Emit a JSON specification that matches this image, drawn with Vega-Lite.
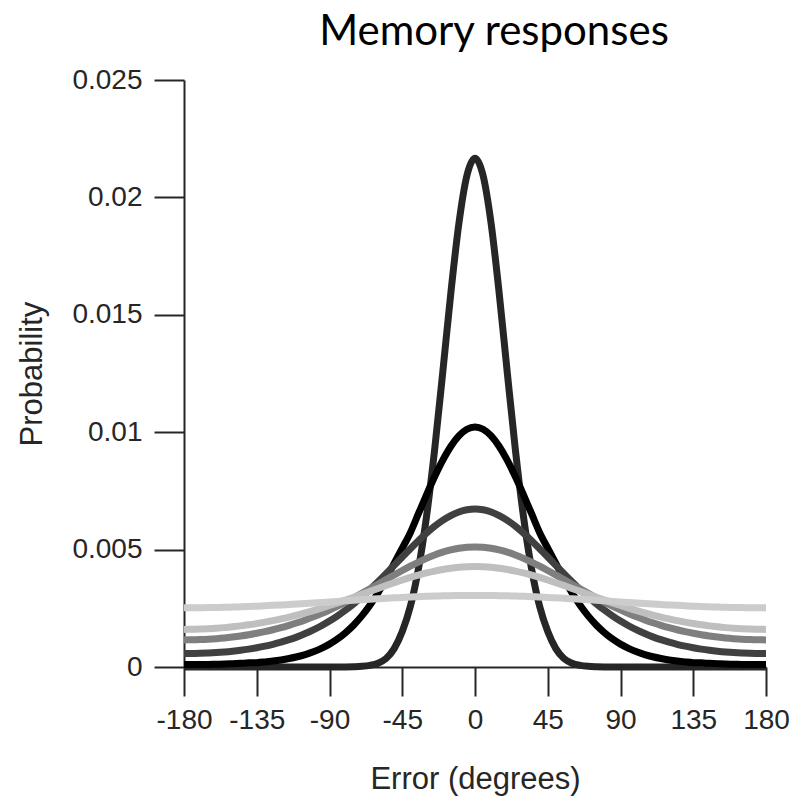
{
  "$schema": "https://vega.github.io/schema/vega-lite/v6.json",
  "width": 582,
  "height": 587,
  "autosize": {"type": "none"},
  "padding": {"left": 184, "top": 80, "right": 24, "bottom": 132},
  "background": "white",
  "config": {"view": {"stroke": null}, "font": "Liberation Sans"},
  "title": {"text": "Memory responses", "font": "Lato", "fontSize": 42, "fontWeight": "normal", "color": "#000000", "anchor": "middle", "dx": 19, "offset": 12},
  "data": {"values": [
    {"x": -180, "a": 0, "b": 0.000103, "c": 0.00057, "d": 0.001155, "e": 0.001602, "f": 0.002521},
    {"x": -175, "a": 0, "b": 0.000104, "c": 0.000573, "d": 0.001158, "e": 0.001605, "f": 0.002521},
    {"x": -170, "a": 0, "b": 0.000106, "c": 0.000581, "d": 0.001168, "e": 0.001614, "f": 0.002524},
    {"x": -165, "a": 0, "b": 0.000111, "c": 0.000595, "d": 0.001184, "e": 0.001629, "f": 0.002529},
    {"x": -160, "a": 0, "b": 0.000118, "c": 0.000614, "d": 0.001208, "e": 0.00165, "f": 0.002535},
    {"x": -155, "a": 0, "b": 0.000127, "c": 0.00064, "d": 0.001238, "e": 0.001677, "f": 0.002543},
    {"x": -150, "a": 0, "b": 0.00014, "c": 0.000673, "d": 0.001276, "e": 0.001711, "f": 0.002553},
    {"x": -145, "a": 0, "b": 0.000156, "c": 0.000713, "d": 0.001321, "e": 0.001751, "f": 0.002564},
    {"x": -140, "a": 0, "b": 0.000176, "c": 0.000761, "d": 0.001374, "e": 0.001797, "f": 0.002577},
    {"x": -135, "a": 0, "b": 0.000185, "c": 0.000818, "d": 0.001436, "e": 0.00185, "f": 0.002592},
    {"x": -130, "a": 0, "b": 0.000215, "c": 0.000886, "d": 0.001506, "e": 0.001909, "f": 0.002608},
    {"x": -125, "a": 0, "b": 0.000253, "c": 0.000965, "d": 0.001586, "e": 0.001975, "f": 0.002625},
    {"x": -120, "a": 0, "b": 0.000301, "c": 0.001057, "d": 0.001675, "e": 0.002048, "f": 0.002643},
    {"x": -115, "a": 0, "b": 0.000361, "c": 0.001163, "d": 0.001774, "e": 0.002127, "f": 0.002663},
    {"x": -110, "a": 0, "b": 0.000436, "c": 0.001284, "d": 0.001884, "e": 0.002213, "f": 0.002684},
    {"x": -105, "a": 0, "b": 0.000531, "c": 0.001423, "d": 0.002004, "e": 0.002305, "f": 0.002705},
    {"x": -100, "a": 0, "b": 0.000648, "c": 0.001581, "d": 0.002135, "e": 0.002404, "f": 0.002727},
    {"x": -95, "a": 0, "b": 0.000794, "c": 0.001759, "d": 0.002277, "e": 0.002508, "f": 0.002749},
    {"x": -90, "a": 0, "b": 0.000975, "c": 0.001958, "d": 0.00243, "e": 0.002618, "f": 0.002772},
    {"x": -85, "a": 0.000002, "b": 0.001196, "c": 0.002181, "d": 0.002593, "e": 0.002732, "f": 0.002795},
    {"x": -80, "a": 0.000005, "b": 0.001466, "c": 0.002427, "d": 0.002765, "e": 0.002851, "f": 0.002818},
    {"x": -75, "a": 0.000013, "b": 0.001791, "c": 0.002695, "d": 0.002946, "e": 0.002972, "f": 0.002841},
    {"x": -70, "a": 0.00003, "b": 0.002177, "c": 0.002987, "d": 0.003134, "e": 0.003096, "f": 0.002863},
    {"x": -65, "a": 0.000071, "b": 0.002631, "c": 0.003299, "d": 0.003327, "e": 0.003221, "f": 0.002885},
    {"x": -60, "a": 0.000161, "b": 0.003156, "c": 0.00363, "d": 0.003525, "e": 0.003346, "f": 0.002907},
    {"x": -55, "a": 0.000361, "b": 0.003752, "c": 0.003975, "d": 0.003723, "e": 0.003469, "f": 0.002927},
    {"x": -50, "a": 0.000782, "b": 0.004414, "c": 0.004329, "d": 0.00392, "e": 0.003589, "f": 0.002946},
    {"x": -45, "a": 0.001508, "b": 0.00506, "c": 0.004687, "d": 0.004112, "e": 0.003704, "f": 0.002964},
    {"x": -40, "a": 0.002578, "b": 0.005721, "c": 0.00504, "d": 0.004296, "e": 0.003813, "f": 0.002981},
    {"x": -35, "a": 0.00418, "b": 0.006527, "c": 0.005381, "d": 0.004469, "e": 0.003914, "f": 0.002996},
    {"x": -30, "a": 0.006403, "b": 0.007331, "c": 0.005702, "d": 0.004628, "e": 0.004005, "f": 0.003009},
    {"x": -25, "a": 0.009238, "b": 0.008101, "c": 0.005992, "d": 0.004769, "e": 0.004085, "f": 0.003021},
    {"x": -20, "a": 0.012518, "b": 0.0088, "c": 0.006245, "d": 0.004889, "e": 0.004152, "f": 0.003031},
    {"x": -15, "a": 0.015893, "b": 0.009392, "c": 0.00645, "d": 0.004985, "e": 0.004206, "f": 0.003038},
    {"x": -10, "a": 0.018872, "b": 0.009842, "c": 0.006602, "d": 0.005056, "e": 0.004245, "f": 0.003044},
    {"x": -5, "a": 0.020932, "b": 0.010124, "c": 0.006695, "d": 0.005099, "e": 0.004269, "f": 0.003047},
    {"x": 0, "a": 0.02167, "b": 0.01022, "c": 0.006727, "d": 0.005113, "e": 0.004277, "f": 0.003048},
    {"x": 5, "a": 0.020932, "b": 0.010124, "c": 0.006695, "d": 0.005099, "e": 0.004269, "f": 0.003047},
    {"x": 10, "a": 0.018872, "b": 0.009842, "c": 0.006602, "d": 0.005056, "e": 0.004245, "f": 0.003044},
    {"x": 15, "a": 0.015893, "b": 0.009392, "c": 0.00645, "d": 0.004985, "e": 0.004206, "f": 0.003038},
    {"x": 20, "a": 0.012518, "b": 0.0088, "c": 0.006245, "d": 0.004889, "e": 0.004152, "f": 0.003031},
    {"x": 25, "a": 0.009238, "b": 0.008101, "c": 0.005992, "d": 0.004769, "e": 0.004085, "f": 0.003021},
    {"x": 30, "a": 0.006403, "b": 0.007331, "c": 0.005702, "d": 0.004628, "e": 0.004005, "f": 0.003009},
    {"x": 35, "a": 0.00418, "b": 0.006527, "c": 0.005381, "d": 0.004469, "e": 0.003914, "f": 0.002996},
    {"x": 40, "a": 0.002578, "b": 0.005721, "c": 0.00504, "d": 0.004296, "e": 0.003813, "f": 0.002981},
    {"x": 45, "a": 0.001508, "b": 0.00506, "c": 0.004687, "d": 0.004112, "e": 0.003704, "f": 0.002964},
    {"x": 50, "a": 0.000782, "b": 0.004414, "c": 0.004329, "d": 0.00392, "e": 0.003589, "f": 0.002946},
    {"x": 55, "a": 0.000361, "b": 0.003752, "c": 0.003975, "d": 0.003723, "e": 0.003469, "f": 0.002927},
    {"x": 60, "a": 0.000161, "b": 0.003156, "c": 0.00363, "d": 0.003525, "e": 0.003346, "f": 0.002907},
    {"x": 65, "a": 0.000071, "b": 0.002631, "c": 0.003299, "d": 0.003327, "e": 0.003221, "f": 0.002885},
    {"x": 70, "a": 0.00003, "b": 0.002177, "c": 0.002987, "d": 0.003134, "e": 0.003096, "f": 0.002863},
    {"x": 75, "a": 0.000013, "b": 0.001791, "c": 0.002695, "d": 0.002946, "e": 0.002972, "f": 0.002841},
    {"x": 80, "a": 0.000005, "b": 0.001466, "c": 0.002427, "d": 0.002765, "e": 0.002851, "f": 0.002818},
    {"x": 85, "a": 0.000002, "b": 0.001196, "c": 0.002181, "d": 0.002593, "e": 0.002732, "f": 0.002795},
    {"x": 90, "a": 0, "b": 0.000975, "c": 0.001958, "d": 0.00243, "e": 0.002618, "f": 0.002772},
    {"x": 95, "a": 0, "b": 0.000794, "c": 0.001759, "d": 0.002277, "e": 0.002508, "f": 0.002749},
    {"x": 100, "a": 0, "b": 0.000648, "c": 0.001581, "d": 0.002135, "e": 0.002404, "f": 0.002727},
    {"x": 105, "a": 0, "b": 0.000531, "c": 0.001423, "d": 0.002004, "e": 0.002305, "f": 0.002705},
    {"x": 110, "a": 0, "b": 0.000436, "c": 0.001284, "d": 0.001884, "e": 0.002213, "f": 0.002684},
    {"x": 115, "a": 0, "b": 0.000361, "c": 0.001163, "d": 0.001774, "e": 0.002127, "f": 0.002663},
    {"x": 120, "a": 0, "b": 0.000301, "c": 0.001057, "d": 0.001675, "e": 0.002048, "f": 0.002643},
    {"x": 125, "a": 0, "b": 0.000253, "c": 0.000965, "d": 0.001586, "e": 0.001975, "f": 0.002625},
    {"x": 130, "a": 0, "b": 0.000215, "c": 0.000886, "d": 0.001506, "e": 0.001909, "f": 0.002608},
    {"x": 135, "a": 0, "b": 0.000185, "c": 0.000818, "d": 0.001436, "e": 0.00185, "f": 0.002592},
    {"x": 140, "a": 0, "b": 0.000176, "c": 0.000761, "d": 0.001374, "e": 0.001797, "f": 0.002577},
    {"x": 145, "a": 0, "b": 0.000156, "c": 0.000713, "d": 0.001321, "e": 0.001751, "f": 0.002564},
    {"x": 150, "a": 0, "b": 0.00014, "c": 0.000673, "d": 0.001276, "e": 0.001711, "f": 0.002553},
    {"x": 155, "a": 0, "b": 0.000127, "c": 0.00064, "d": 0.001238, "e": 0.001677, "f": 0.002543},
    {"x": 160, "a": 0, "b": 0.000118, "c": 0.000614, "d": 0.001208, "e": 0.00165, "f": 0.002535},
    {"x": 165, "a": 0, "b": 0.000111, "c": 0.000595, "d": 0.001184, "e": 0.001629, "f": 0.002529},
    {"x": 170, "a": 0, "b": 0.000106, "c": 0.000581, "d": 0.001168, "e": 0.001614, "f": 0.002524},
    {"x": 175, "a": 0, "b": 0.000104, "c": 0.000573, "d": 0.001158, "e": 0.001605, "f": 0.002521},
    {"x": 180, "a": 0, "b": 0.000103, "c": 0.00057, "d": 0.001155, "e": 0.001602, "f": 0.002521}
  ]},
  "transform": [{"fold": ["a", "b", "c", "d", "e", "f"], "as": ["series", "p"]}],
  "mark": {"type": "line", "strokeWidth": 7, "interpolate": "monotone", "strokeCap": "butt", "clip": false},
  "encoding": {
    "x": {
      "field": "x", "type": "quantitative",
      "scale": {"domain": [-180, 180], "nice": false, "zero": false},
      "axis": {
        "values": [-180, -135, -90, -45, 0, 45, 90, 135, 180],
        "labelExpr": "'' + datum.value",
        "labelOverlap": false, "labelBound": false, "labelFlush": false,
        "grid": false, "tickSize": 29, "tickWidth": 2, "domainWidth": 2,
        "domainColor": "#262626", "tickColor": "#262626",
        "labelFont": "Liberation Sans", "labelFontSize": 28, "labelColor": "#262626", "labelPadding": 10,
        "title": "Error (degrees)", "titleFont": "Liberation Sans", "titleFontSize": 31, "titleFontWeight": "normal", "titleColor": "#262626", "titlePadding": 30
      }
    },
    "y": {
      "field": "p", "type": "quantitative",
      "scale": {"domain": [0, 0.025], "nice": false, "zero": true},
      "axis": {
        "values": [0, 0.005, 0.01, 0.015, 0.02, 0.025],
        "labelExpr": "'' + datum.value",
        "labelOverlap": false, "labelBound": false, "labelFlush": false,
        "grid": false, "tickSize": 30, "tickWidth": 2, "domainWidth": 2,
        "domainColor": "#262626", "tickColor": "#262626",
        "labelFont": "Liberation Sans", "labelFontSize": 28, "labelColor": "#262626", "labelPadding": 12,
        "title": "Probability", "titleFont": "Liberation Sans", "titleFontSize": 31, "titleFontWeight": "normal", "titleColor": "#262626", "titlePadding": 23
      }
    },
    "color": {
      "field": "series", "type": "nominal",
      "scale": {"domain": ["a", "b", "c", "d", "e", "f"], "range": ["#262626", "#000000", "#404040", "#7f7f7f", "#bfbfbf", "#cccccc"]},
      "legend": null
    }
  }
}
